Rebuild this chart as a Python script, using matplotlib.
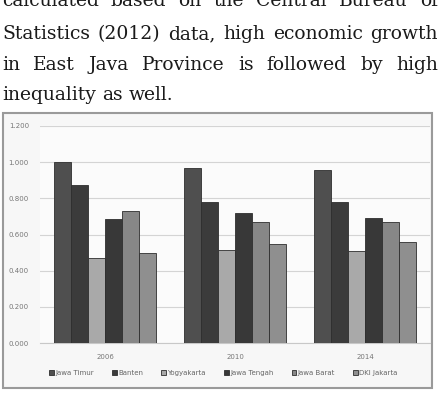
import numpy as np
import matplotlib
matplotlib.use("Agg")
import matplotlib.pyplot as plt
from matplotlib.patches import Rectangle

years = ["2006", "2010", "2014"]
provinces = ["Jawa Timur", "Banten", "Yogyakarta", "Jawa Tengah", "Jawa Barat", "DKI Jakarta"]
jawa_timur = [1.000, 0.965, 0.956]
banten = [0.875, 0.778, 0.778]
yogyakarta = [0.470, 0.515, 0.508]
jawa_tengah = [0.688, 0.720, 0.694]
jawa_barat = [0.730, 0.670, 0.667]
dki_jakarta = [0.500, 0.545, 0.560]
colors = ["#4f4f4f", "#3b3b3b", "#a9a9a9", "#383838", "#878787", "#8f8f8f"]

paragraph = [
    "calculated based on the Central Bureau of",
    "Statistics (2012) data, high economic growth",
    "in East Java Province is followed by high",
    "inequality as well.",
]


def justify_line(fig, renderer, line, y, x0, x1, last=False, **kw):
    words = line.split()
    texts = [fig.text(0, y, w, **kw) for w in words]
    widths = [t.get_window_extent(renderer).width for t in texts]
    W = fig.get_figwidth() * fig.dpi
    if last or len(words) == 1:
        sp = fig.text(0, 0, "a a", **kw)
        sp2 = fig.text(0, 0, "aa", **kw)
        gap = sp.get_window_extent(renderer).width - sp2.get_window_extent(renderer).width
        sp.remove()
        sp2.remove()
    else:
        gap = (x1 - x0 - sum(widths)) / (len(words) - 1)
    x = x0
    for t, w in zip(texts, widths):
        t.set_x(x / W)
        x += w + gap


def main():
    fig = plt.figure(figsize=(4.4, 4.0), dpi=100)
    fig.patch.set_facecolor("white")
    renderer = fig.canvas.get_renderer()
    H = 400
    baselines = [6, 39, 70, 100]
    for i, (line, b) in enumerate(zip(paragraph, baselines)):
        justify_line(fig, renderer, line, 1 - b / H, 2, 438,
                     last=(i == len(paragraph) - 1),
                     fontsize=13.5, family="DejaVu Serif",
                     va="baseline", color="#1a1a1a")

    # chart frame
    fig.patches.append(Rectangle((3 / 440, 12 / 400), 429 / 440, 275 / 400,
                                 transform=fig.transFigure, facecolor="#f7f7f7",
                                 edgecolor="#9a9a9a", linewidth=1.5, zorder=-1))

    ax = fig.add_axes([40 / 440, 57 / 400, 390 / 440, 217 / 400])
    ax.set_facecolor("#fbfbfb")
    series = [jawa_timur, banten, yogyakarta, jawa_tengah, jawa_barat, dki_jakarta]
    x = np.arange(len(years))
    w = 0.132
    for i, (name, vals) in enumerate(zip(provinces, series)):
        ax.bar(x + (i - 2.5) * w, vals, width=w, color=colors[i],
               edgecolor="#2e2e2e", linewidth=0.6, label=name, zorder=3)

    ax.set_xlim(-0.5, 2.5)
    ax.set_ylim(0, 1.2)
    ax.set_yticks(np.arange(0, 1.21, 0.2))
    ax.set_yticklabels([f"{v:.3f}" for v in np.arange(0, 1.21, 0.2)])
    ax.set_xticks(x)
    ax.set_xticklabels(years)
    ax.tick_params(length=0, labelsize=5, colors="#777777", pad=8)
    ax.grid(axis="y", color="#d4d4d4", linewidth=0.8, zorder=0)
    for s in ["top", "right", "left"]:
        ax.spines[s].set_visible(False)
    ax.spines["bottom"].set_color("#c8c8c8")

    leg = ax.legend(loc="upper center", bbox_to_anchor=(0.47, -0.095), ncol=6,
                    fontsize=5, frameon=False, handlelength=0.7, handleheight=0.7,
                    handletextpad=0.2, columnspacing=2.6)
    for t in leg.get_texts():
        t.set_color("#666666")

    fig.savefig("out.png", dpi=100)


if __name__ == "__main__":
    main()
